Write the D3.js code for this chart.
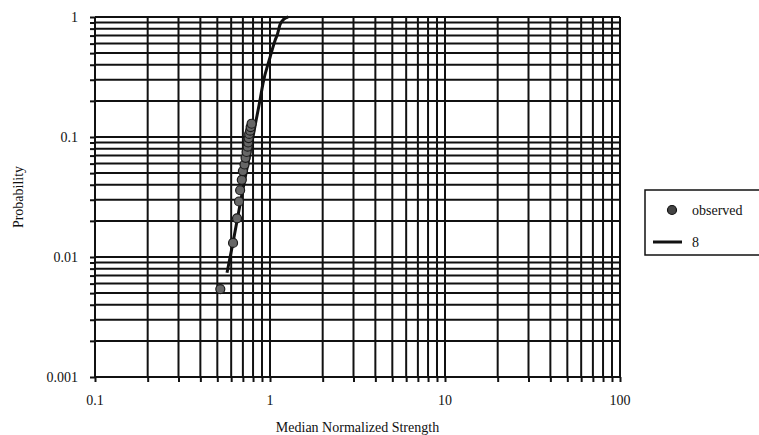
<!DOCTYPE html>
<html>
<head>
<meta charset="utf-8">
<script src="https://cdn.jsdelivr.net/npm/d3@7"></script>
<style>
  html, body { margin: 0; padding: 0; background: #fff; }
  svg { display: block; }
  text { font-family: "Liberation Serif", "Times New Roman", serif; fill: #111; }
</style>
</head>
<body>
<svg id="chart" width="759" height="435"></svg>
<script>
// ---- data ----
const xTickLabels = ["0.1", "1", "10", "100"];
const yTickLabels = ["0.001", "0.01", "0.1", "1"];
const xDomain = [0.1, 100];
const yDomain = [0.001, 1];

const observedX = [0.52, 0.615, 0.648, 0.665, 0.675, 0.69, 0.70, 0.715, 0.725, 0.735, 0.745, 0.75, 0.755, 0.76, 0.77, 0.775, 0.785];
const observedY = [0.0054, 0.0131, 0.021, 0.029, 0.036, 0.044, 0.052, 0.059, 0.067, 0.075, 0.083, 0.090, 0.098, 0.106, 0.113, 0.121, 0.129];

const fitX = [0.568, 0.614, 0.682, 0.754, 0.823, 0.877, 0.912, 1.0, 1.07, 1.10, 1.14, 1.2, 1.27];
const fitY = [0.0074, 0.0131, 0.030, 0.064, 0.126, 0.203, 0.28, 0.46, 0.64, 0.71, 0.86, 0.96, 1.0];

const seriesNames = ["observed", "8"];

// ---- layout ----
const svg = d3.select("#chart");
const margin = { left: 95, right: 139, top: 17, bottom: 58 };
const W = 759, H = 435;
const x = d3.scaleLog().domain(xDomain).range([margin.left, W - margin.right]);
const y = d3.scaleLog().domain(yDomain).range([H - margin.bottom, margin.top]);

const x0 = x.range()[0], x1 = x.range()[1];
const y0 = y.range()[0], y1 = y.range()[1];

// grid values: 1..9 per decade
const xGrid = x.ticks();
const yGrid = y.ticks();

const g = svg.append("g");

g.selectAll("line.vg").data(xGrid).join("line")
  .attr("x1", d => x(d)).attr("x2", d => x(d))
  .attr("y1", y1).attr("y2", y0)
  .attr("stroke", "#111").attr("stroke-width", 2);

g.selectAll("line.hg").data(yGrid).join("line")
  .attr("x1", x0).attr("x2", x1)
  .attr("y1", d => y(d)).attr("y2", d => y(d))
  .attr("stroke", "#111").attr("stroke-width", 2);

const yAxis = d3.axisLeft(y).tickValues(yGrid).tickSize(5).tickFormat(() => "");
svg.append("g").attr("transform", `translate(${x0},0)`).call(yAxis)
  .call(s => s.selectAll("path, line").attr("stroke", "#111").attr("stroke-width", 2))
  .call(s => s.select(".domain").attr("d", `M0,${y1}V${y0}`));

const xAxis = d3.axisBottom(x).tickValues(xGrid).tickSize(5).tickFormat(() => "");
svg.append("g").attr("transform", `translate(0,${y0})`).call(xAxis)
  .call(s => s.selectAll("path, line").attr("stroke", "#111").attr("stroke-width", 2))
  .call(s => s.select(".domain").attr("d", `M${x0},0H${x1}`));

svg.selectAll("text.yl").data(yTickLabels).join("text")
  .attr("x", 78).attr("y", d => y(+d) + 5)
  .attr("text-anchor", "end").attr("font-size", 14).text(d => d);

svg.selectAll("text.xl").data(xTickLabels).join("text")
  .attr("x", d => x(+d)).attr("y", y0 + 28)
  .attr("text-anchor", "middle").attr("font-size", 14).text(d => d);

svg.append("text").attr("x", (x0 + x1) / 2).attr("y", 432)
  .attr("text-anchor", "middle").attr("font-size", 14).text("Median Normalized Strength");
svg.append("text").attr("transform", `translate(23,${(y0 + y1) / 2}) rotate(-90)`)
  .attr("text-anchor", "middle").attr("font-size", 14).text("Probability");

// fit line
const fitData = fitX.map((v, i) => [v, fitY[i]]);
svg.append("path").datum(fitData)
  .attr("fill", "none").attr("stroke", "#111").attr("stroke-width", 3)
  .attr("d", d3.line().x(d => x(d[0])).y(d => y(d[1])).curve(d3.curveMonotoneX));

// observed points
const obs = observedX.map((v, i) => [v, observedY[i]]);
svg.selectAll("circle.obs").data(obs).join("circle")
  .attr("cx", d => x(d[0])).attr("cy", d => y(d[1])).attr("r", 4.5)
  .attr("fill", "#666").attr("stroke", "#1a1a1a").attr("stroke-width", 1.2);

// legend
const lg = svg.append("g");
lg.append("rect").attr("x", 645).attr("y", 190).attr("width", 130).attr("height", 65)
  .attr("fill", "#fff").attr("stroke", "#111").attr("stroke-width", 1.5);
lg.append("circle").attr("cx", 672).attr("cy", 210).attr("r", 4.5)
  .attr("fill", "#444").attr("stroke", "#111").attr("stroke-width", 1.2);
lg.append("text").attr("x", 692).attr("y", 215).attr("font-size", 14).text(seriesNames[0]);
lg.append("line").attr("x1", 653).attr("x2", 682).attr("y1", 242).attr("y2", 242)
  .attr("stroke", "#111").attr("stroke-width", 3);
lg.append("text").attr("x", 692).attr("y", 247).attr("font-size", 14).text(seriesNames[1]);
</script>
</body>
</html>
